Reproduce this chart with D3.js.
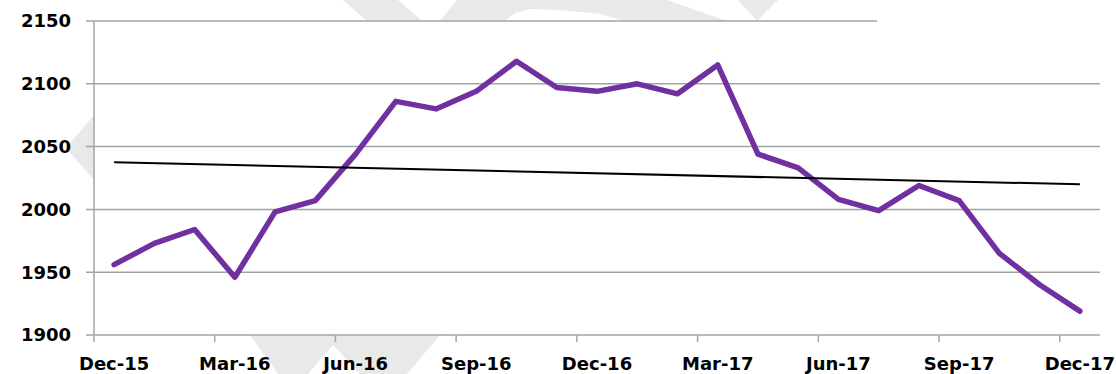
<!DOCTYPE html>
<html>
<head>
<meta charset="utf-8">
<script src="https://cdn.jsdelivr.net/npm/d3@7/dist/d3.min.js"></script>
<style>
  html, body { margin: 0; padding: 0; background: #ffffff; }
  svg { display: block; }
  .lbl { font-family: "DejaVu Sans", Verdana, sans-serif; font-weight: bold; font-size: 18px; fill: #000; }
</style>
</head>
<body>
<svg id="chart" width="1116" height="374"></svg>
<script>
// Monthly series, Dec-15 .. Dec-17
const months = ["Dec-15","Jan-16","Feb-16","Mar-16","Apr-16","May-16","Jun-16","Jul-16","Aug-16",
  "Sep-16","Oct-16","Nov-16","Dec-16","Jan-17","Feb-17","Mar-17","Apr-17","May-17","Jun-17",
  "Jul-17","Aug-17","Sep-17","Oct-17","Nov-17","Dec-17"];
const values = [1956, 1973, 1984, 1946, 1998, 2007, 2044, 2086, 2080, 2094, 2118, 2097, 2094,
  2100, 2092, 2115, 2044, 2033, 2008, 1999, 2019, 2007, 1965, 1940, 1919];
const yTicks = [1900, 1950, 2000, 2050, 2100, 2150];
const xLabels = ["Dec-15","Mar-16","Jun-16","Sep-16","Dec-16","Mar-17","Jun-17","Sep-17","Dec-17"];

const svg = d3.select("#chart");
const plot = { left: 94, right: 1100, top: 21, bottom: 335 };

const x = d3.scaleBand().domain(months).range([plot.left, plot.right]).padding(0);
const cx = m => x(m) + x.bandwidth() / 2;
const y = d3.scaleLinear().domain([1900, 2150]).range([plot.bottom, plot.top]);

// faint background watermark shapes
const wm = svg.append("g").attr("fill", "#e9e9e9");
[
  [[343,0],[398,0],[422,21],[367,21]],
  [[457,0],[667,0],[727,21],[625,21],[600,14],[560,10],[530,9],[515,13],[505,21],[440,21]],
  [[738,0],[778,0],[757,21]],
  [[66,148],[94,115],[94,180]],
  [[250,335],[440,335],[407,374],[360,374],[333,345],[308,374],[278,374]]
].forEach(p => wm.append("polygon").attr("points", p.map(d => d.join(",")).join(" ")));

// plot area
svg.append("rect").attr("x", plot.left).attr("y", plot.top)
  .attr("width", plot.right - plot.left).attr("height", plot.bottom - plot.top).attr("fill", "#fff");

// horizontal gridlines (top one is shorter)
const gridColor = "#a3a3a3";
svg.append("g").selectAll("line").data(yTicks).join("line")
  .attr("x1", plot.left - 8)
  .attr("x2", d => d === 2150 ? 877 : plot.right)
  .attr("y1", d => y(d)).attr("y2", d => y(d))
  .attr("stroke", gridColor).attr("stroke-width", 1.5);

// y axis line
svg.append("line").attr("x1", plot.left).attr("x2", plot.left)
  .attr("y1", plot.top).attr("y2", plot.bottom)
  .attr("stroke", gridColor).attr("stroke-width", 1.5);

// y labels
svg.append("g").selectAll("text").data(yTicks).join("text")
  .attr("class", "lbl")
  .attr("x", 71).attr("y", d => y(d)).attr("dy", "0.36em")
  .attr("text-anchor", "end").text(d => d);

// x tick marks at category boundaries, labels at category centres
svg.append("g").selectAll("line").data(xLabels).join("line")
  .attr("x1", d => x(d)).attr("x2", d => x(d))
  .attr("y1", plot.bottom).attr("y2", plot.bottom + 7)
  .attr("stroke", gridColor).attr("stroke-width", 1.5);

svg.append("g").selectAll("text").data(xLabels).join("text")
  .attr("class", "lbl")
  .attr("x", d => cx(d)).attr("y", 370)
  .attr("text-anchor", "middle").text(d => d);

// series line
const line = d3.line().x((d, i) => cx(months[i])).y(d => y(d));
svg.append("path").datum(values)
  .attr("d", line)
  .attr("fill", "none").attr("stroke", "#7030a0").attr("stroke-width", 5.5)
  .attr("stroke-linejoin", "round").attr("stroke-linecap", "round");

// linear trendline (least squares over month index)
const n = values.length;
const idx = d3.range(n);
const mx = d3.mean(idx), my = d3.mean(values);
const slope = d3.sum(idx, i => (i - mx) * (values[i] - my)) / d3.sum(idx, i => (i - mx) ** 2);
const intercept = my - slope * mx;
svg.append("line")
  .attr("x1", cx(months[0])).attr("y1", y(intercept))
  .attr("x2", cx(months[n - 1])).attr("y2", y(intercept + slope * (n - 1)))
  .attr("stroke", "#000").attr("stroke-width", 2);
</script>
</body>
</html>
